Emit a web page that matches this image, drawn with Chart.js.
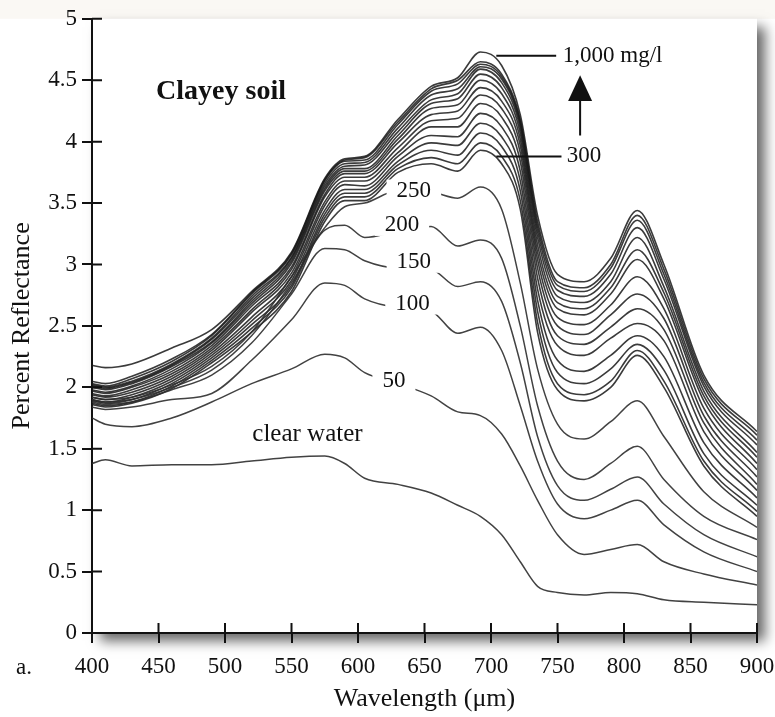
<!DOCTYPE html>
<html>
<head>
<meta charset="utf-8">
<script src="https://cdn.jsdelivr.net/npm/chart.js@4.4.0/dist/chart.umd.min.js"></script>
<style>
  html, body { margin: 0; padding: 0; background: #fff; }
  #wrap { width: 775px; height: 717px; }
</style>
</head>
<body>
<div id="wrap"><canvas id="chart" width="775" height="717"></canvas></div>
<script>
// wavelengths (x) shared by every spectrum
const wavelengths = [400, 410, 430, 460, 490, 520, 550, 575, 590, 605, 630, 655, 675, 692, 708, 722, 735, 750, 770, 790, 810, 830, 860, 900];

// percent reflectance, by suspended sediment concentration (mg/l)
const clearWater = [1.38, 1.41, 1.36, 1.37, 1.37, 1.40, 1.43, 1.44, 1.38, 1.26, 1.21, 1.14, 1.04, 0.95, 0.80, 0.58, 0.38, 0.33, 0.31, 0.33, 0.32, 0.27, 0.25, 0.23];
const conc50  = [1.75, 1.70, 1.68, 1.75, 1.88, 2.03, 2.15, 2.27, 2.24, 2.12, 2.03, 1.93, 1.80, 1.77, 1.62, 1.36, 1.08, 0.80, 0.64, 0.68, 0.72, 0.58, 0.48, 0.39];
const conc100 = [1.84, 1.82, 1.84, 1.90, 1.95, 2.22, 2.55, 2.85, 2.83, 2.72, 2.65, 2.62, 2.44, 2.49, 2.30, 1.85, 1.40, 1.05, 0.93, 1.00, 1.08, 0.88, 0.66, 0.50];
const conc150 = [1.88, 1.86, 1.88, 1.98, 2.10, 2.36, 2.76, 3.13, 3.12, 3.03, 2.97, 2.96, 2.82, 2.86, 2.70, 2.20, 1.60, 1.20, 1.08, 1.17, 1.27, 1.05, 0.80, 0.62];
const conc200 = [1.90, 1.88, 1.90, 2.00, 2.14, 2.42, 2.85, 3.28, 3.32, 3.22, 3.27, 3.31, 3.15, 3.20, 3.05, 2.50, 1.85, 1.40, 1.25, 1.38, 1.52, 1.25, 0.95, 0.76];
const conc250 = [1.92, 1.90, 1.92, 2.02, 2.17, 2.45, 2.90, 3.30, 3.47, 3.50, 3.60, 3.59, 3.54, 3.63, 3.45, 2.85, 2.15, 1.70, 1.58, 1.72, 1.89, 1.60, 1.15, 0.86];
const conc300 = [1.86, 1.84, 1.87, 1.99, 2.20, 2.45, 2.78, 3.35, 3.52, 3.52, 3.75, 3.82, 3.76, 3.93, 3.82, 3.45, 2.45, 1.98, 1.89, 2.00, 2.26, 2.00, 1.36, 0.95];
const conc350 = [1.87, 1.85, 1.88, 2.01, 2.22, 2.48, 2.81, 3.38, 3.55, 3.55, 3.78, 3.87, 3.82, 3.99, 3.88, 3.52, 2.53, 2.03, 1.94, 2.05, 2.30, 2.05, 1.40, 0.99];
const conc400 = [1.89, 1.87, 1.90, 2.03, 2.24, 2.51, 2.83, 3.41, 3.58, 3.58, 3.81, 3.93, 3.89, 4.07, 3.96, 3.60, 2.62, 2.12, 2.03, 2.15, 2.35, 2.14, 1.46, 1.04];
const conc450 = [1.90, 1.88, 1.92, 2.05, 2.26, 2.54, 2.87, 3.44, 3.61, 3.61, 3.84, 3.99, 3.97, 4.15, 4.04, 3.68, 2.71, 2.22, 2.13, 2.26, 2.42, 2.25, 1.55, 1.10];
const conc500 = [1.92, 1.90, 1.94, 2.07, 2.28, 2.57, 2.90, 3.48, 3.65, 3.64, 3.88, 4.05, 4.04, 4.23, 4.12, 3.76, 2.80, 2.34, 2.26, 2.40, 2.52, 2.38, 1.64, 1.16];
const conc550 = [1.94, 1.92, 1.96, 2.09, 2.30, 2.61, 2.93, 3.51, 3.68, 3.68, 3.91, 4.12, 4.12, 4.31, 4.20, 3.84, 2.89, 2.42, 2.35, 2.49, 2.64, 2.47, 1.71, 1.21];
const conc600 = [1.95, 1.93, 1.98, 2.11, 2.32, 2.63, 2.96, 3.55, 3.71, 3.71, 3.95, 4.17, 4.19, 4.38, 4.27, 3.91, 2.97, 2.50, 2.43, 2.59, 2.76, 2.56, 1.77, 1.27];
const conc650 = [1.97, 1.95, 2.00, 2.13, 2.34, 2.66, 2.98, 3.57, 3.74, 3.74, 3.99, 4.22, 4.25, 4.44, 4.33, 3.97, 3.04, 2.57, 2.51, 2.67, 2.90, 2.64, 1.83, 1.33];
const conc700 = [1.98, 1.96, 2.01, 2.15, 2.36, 2.68, 3.01, 3.60, 3.76, 3.76, 4.02, 4.27, 4.30, 4.50, 4.39, 4.02, 3.10, 2.64, 2.59, 2.76, 3.04, 2.72, 1.89, 1.38];
const conc750 = [2.00, 1.98, 2.03, 2.17, 2.37, 2.70, 3.03, 3.62, 3.78, 3.78, 4.05, 4.31, 4.35, 4.55, 4.44, 4.07, 3.16, 2.69, 2.64, 2.81, 3.12, 2.77, 1.93, 1.43];
const conc800 = [2.01, 1.99, 2.04, 2.18, 2.39, 2.72, 3.05, 3.64, 3.80, 3.81, 4.08, 4.34, 4.39, 4.59, 4.48, 4.11, 3.22, 2.74, 2.69, 2.86, 3.22, 2.82, 1.97, 1.47];
const conc850 = [2.02, 2.00, 2.05, 2.19, 2.40, 2.74, 3.06, 3.66, 3.82, 3.83, 4.11, 4.38, 4.43, 4.61, 4.51, 4.14, 3.27, 2.79, 2.74, 2.92, 3.30, 2.88, 2.01, 1.53];
const conc900 = [2.03, 2.01, 2.07, 2.21, 2.42, 2.76, 3.08, 3.68, 3.84, 3.85, 4.14, 4.41, 4.47, 4.63, 4.53, 4.16, 3.31, 2.83, 2.78, 2.97, 3.36, 2.92, 2.04, 1.57];
const conc950 = [2.05, 2.03, 2.09, 2.23, 2.43, 2.77, 3.09, 3.69, 3.85, 3.87, 4.16, 4.43, 4.50, 4.65, 4.55, 4.18, 3.35, 2.86, 2.81, 3.00, 3.40, 2.96, 2.07, 1.61];
const conc1000 = [2.18, 2.16, 2.19, 2.32, 2.47, 2.78, 3.10, 3.70, 3.86, 3.88, 4.18, 4.45, 4.52, 4.73, 4.62, 4.22, 3.40, 2.92, 2.86, 3.05, 3.44, 3.00, 2.10, 1.64];

const lowerSeries = [clearWater, conc50, conc100, conc150, conc200, conc250];
const bundleSeries = [conc300, conc350, conc400, conc450, conc500, conc550, conc600, conc650,
                      conc700, conc750, conc800, conc850, conc900, conc950, conc1000];

// in-plot labels (wavelength, reflectance)
const curveLabels = ['250', '200', '150', '100', '50'];
const curveLabelX = [642, 633, 642, 641, 627];
const curveLabelY = [3.61, 3.33, 3.03, 2.69, 2.06];

const xTicks = [400, 450, 500, 550, 600, 650, 700, 750, 800, 850, 900];
const yTicks = [0, 0.5, 1, 1.5, 2, 2.5, 3, 3.5, 4, 4.5, 5];

const SERIF = "'Liberation Serif', 'Times New Roman', serif";
const INK = '#111';

function toPoints(values) {
  return wavelengths.map((w, i) => ({ x: w, y: values[i] }));
}

const datasets = [];
lowerSeries.forEach(v => datasets.push({
  data: toPoints(v), borderColor: 'rgba(45,45,45,0.9)', borderWidth: 1.5
}));
bundleSeries.forEach(v => datasets.push({
  data: toPoints(v), borderColor: 'rgba(25,25,25,0.85)', borderWidth: 1.6
}));

const annotate = {
  id: 'annotate',
  beforeDraw(chart) {
    const { ctx, chartArea: a } = chart;
    ctx.save();
    ctx.fillStyle = '#fff';
    ctx.fillRect(0, 0, chart.width, chart.height);
    ctx.fillStyle = '#faf8f4';
    ctx.fillRect(0, 0, chart.width, a.top);
    // soft drop shadow of the plot panel
    ctx.shadowColor = 'rgba(0,0,0,0.6)';
    ctx.shadowBlur = 12;
    ctx.shadowOffsetX = 8;
    ctx.shadowOffsetY = 8;
    ctx.fillStyle = '#fff';
    ctx.fillRect(a.left, a.top, a.right - a.left, a.bottom - a.top);
    ctx.restore();
  },
  afterDraw(chart) {
    const { ctx, chartArea: a } = chart;
    const xs = chart.scales.x, ys = chart.scales.y;
    ctx.save();

    // ticks that cross into the plot
    ctx.strokeStyle = INK;
    ctx.lineWidth = 2;
    ctx.beginPath();
    yTicks.forEach(v => {
      const py = ys.getPixelForValue(v);
      ctx.moveTo(a.left, py); ctx.lineTo(a.left + 10, py);
    });
    xTicks.forEach(v => {
      const px = xs.getPixelForValue(v);
      ctx.moveTo(px, a.bottom); ctx.lineTo(px, a.bottom - 10);
    });
    ctx.stroke();

    // concentration labels, breaking the curves
    ctx.font = '23px ' + SERIF;
    ctx.textAlign = 'center';
    ctx.textBaseline = 'middle';
    curveLabels.forEach((t, i) => {
      const px = xs.getPixelForValue(curveLabelX[i]);
      const py = ys.getPixelForValue(curveLabelY[i]);
      const w = ctx.measureText(t).width + 20;
      ctx.fillStyle = '#fff';
      ctx.fillRect(px - w / 2, py - 10, w, 22);
      ctx.fillStyle = INK;
      ctx.fillText(t, px, py + 1);
    });

    // leader lines
    ctx.strokeStyle = INK;
    ctx.lineWidth = 2;
    ctx.beginPath();
    ctx.moveTo(xs.getPixelForValue(704), ys.getPixelForValue(4.70));
    ctx.lineTo(xs.getPixelForValue(749), ys.getPixelForValue(4.70));
    ctx.moveTo(xs.getPixelForValue(704), ys.getPixelForValue(3.88));
    ctx.lineTo(xs.getPixelForValue(753), ys.getPixelForValue(3.88));
    // arrow shaft
    const ax = xs.getPixelForValue(767);
    ctx.moveTo(ax, ys.getPixelForValue(4.05));
    ctx.lineTo(ax, ys.getPixelForValue(4.34));
    ctx.stroke();
    // arrow head
    ctx.fillStyle = INK;
    ctx.beginPath();
    ctx.moveTo(ax, ys.getPixelForValue(4.54));
    ctx.lineTo(ax - 12, ys.getPixelForValue(4.33));
    ctx.lineTo(ax + 12, ys.getPixelForValue(4.33));
    ctx.closePath();
    ctx.fill();

    ctx.textAlign = 'left';
    ctx.font = '23px ' + SERIF;
    ctx.fillText('1,000 mg/l', xs.getPixelForValue(754), ys.getPixelForValue(4.70));
    ctx.fillText('300', xs.getPixelForValue(757), ys.getPixelForValue(3.88));

    ctx.textAlign = 'center';
    ctx.font = '25px ' + SERIF;
    ctx.fillText('clear water', xs.getPixelForValue(562), ys.getPixelForValue(1.62));
    ctx.font = 'bold 28px ' + SERIF;
    ctx.fillText('Clayey soil', xs.getPixelForValue(497), ys.getPixelForValue(4.41));

    ctx.font = '23px ' + SERIF;
    ctx.fillText('a.', a.left - 68, a.bottom + 35);
    ctx.restore();
  }
};

new Chart(document.getElementById('chart'), {
  type: 'line',
  data: { datasets: datasets },
  plugins: [annotate],
  options: {
    responsive: false,
    animation: false,
    layout: { padding: { top: 15, right: 18, left: 0, bottom: 0 } },
    plugins: { legend: { display: false }, tooltip: { enabled: false } },
    elements: {
      point: { radius: 0 },
      line: { cubicInterpolationMode: 'monotone', fill: false }
    },
    scales: {
      x: {
        type: 'linear', min: 400, max: 900,
        ticks: { stepSize: 50, color: INK, font: { family: SERIF, size: 23 }, padding: 10, maxRotation: 0, autoSkip: false },
        grid: { drawOnChartArea: false, tickLength: 10, color: INK, lineWidth: 2 },
        border: { color: INK, width: 2 },
        title: { display: true, text: 'Wavelength (μm)', color: INK, font: { family: SERIF, size: 26 }, padding: { top: 0, bottom: 2 } },
        afterFit(s) { s.height = 84; s.paddingLeft = 0; s.paddingRight = 0; }
      },
      y: {
        min: 0, max: 5,
        ticks: { stepSize: 0.5, color: INK, font: { family: SERIF, size: 23 }, padding: 5,
                 callback: v => String(v) },
        grid: { drawOnChartArea: false, tickLength: 10, color: INK, lineWidth: 2 },
        border: { color: INK, width: 2 },
        title: { display: true, text: 'Percent Reflectance', color: INK, font: { family: SERIF, size: 26 }, padding: { top: 7, bottom: 0 } },
        afterFit(s) { s.width = 92; }
      }
    }
  }
});
</script>
</body>
</html>
